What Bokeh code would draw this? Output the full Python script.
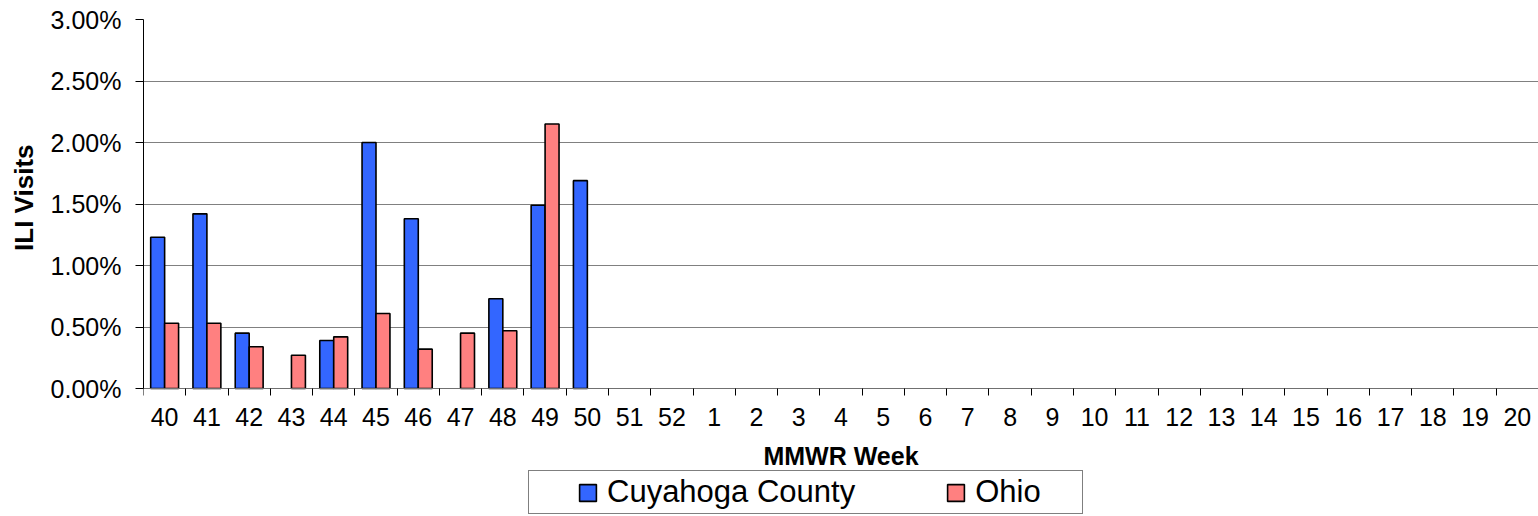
from bokeh.plotting import figure
from bokeh.models import (Range1d, FixedTicker, PrintfTickFormatter, Legend,
                          LegendItem, ColumnDataSource)
from bokeh.embed import file_html
from bokeh.resources import INLINE

weeks = ["40", "41", "42", "43", "44", "45", "46", "47", "48", "49", "50",
         "51", "52", "1", "2", "3", "4", "5", "6", "7", "8", "9", "10",
         "11", "12", "13", "14", "15", "16", "17", "18", "19", "20"]
cuyahoga = [1.23, 1.42, 0.45, None, 0.39, 2.00, 1.38, None, 0.73, 1.49, 1.69] + [None] * 22
ohio = [0.53, 0.53, 0.34, 0.27, 0.42, 0.61, 0.32, 0.45, 0.47, 2.15, None] + [None] * 22
y_ticks = [0.0, 0.5, 1.0, 1.5, 2.0, 2.5, 3.0]

BLUE = "#3366FF"
PINK = "#FF8080"
FONT = "Liberation Sans"

# layout (pixels)
H, W = 516, 1538
TOP, AXIS_Y = 19, 388          # frame top and y=0 position in figure px
px_per_unit = (AXIS_Y - TOP) / 3.0
y_start = -(H - AXIS_Y) / px_per_unit

idx = list(range(len(weeks)))
nan = float("nan")
src = ColumnDataSource(dict(
    xc=[i - 0.165 for i in idx],
    xo=[i + 0.165 for i in idx],
    cuy=[nan if v is None else v for v in cuyahoga],
    ohi=[nan if v is None else v for v in ohio],
))

p = figure(width=W, height=H, output_backend="svg", toolbar_location=None,
           x_range=Range1d(-0.5, len(weeks) - 0.5), y_range=Range1d(y_start, 3),
           min_border=0,
           min_border_left=143, min_border_top=TOP, min_border_bottom=0,
           min_border_right=0, title="ILI Visits", title_location="left")
p.outline_line_color = None
p.background_fill_color = "white"
p.border_fill_color = "white"

# y-axis title (plot title on the left, placed against the 0..3% span)
p.title.align = "right"
p.title.offset = 125
p.title.vertical_align = "top"
p.title.text_font = FONT
p.title.text_font_style = "bold"
p.title.text_font_size = "26px"
p.title.text_color = "black"
p.title.standoff = 13

rc = p.vbar(x="xc", top="cuy", bottom=0, width=0.33, source=src, fill_color=BLUE,
            line_color="black", line_width=1.6)
ro = p.vbar(x="xo", top="ohi", bottom=0, width=0.33, source=src, fill_color=PINK,
            line_color="black", line_width=1.6)

# x axis: labels at category centers, tick marks at boundaries, pinned at y=0
xa = p.xaxis[0]
xa.fixed_location = 0
xa.ticker = FixedTicker(ticks=idx, minor_ticks=[i - 0.5 for i in range(len(weeks) + 1)])
xa.major_label_overrides = {i: w for i, w in zip(idx, weeks)}
xa.major_tick_out = 0
xa.major_tick_in = 0
xa.minor_tick_out = 7
xa.minor_tick_in = 0
xa.minor_tick_line_color = "black"
xa.axis_line_color = "#707070"
xa.major_label_text_font = FONT
xa.major_label_text_font_size = "25px"
xa.major_label_text_color = "black"
xa.major_label_standoff = 12
xa.axis_label = "MMWR Week"
xa.axis_label_text_font = FONT
xa.axis_label_text_font_style = "bold"
xa.axis_label_text_font_size = "25px"
xa.axis_label_text_color = "black"
xa.axis_label_standoff = 13

ya = p.yaxis[0]
ya.bounds = (0, 3)
ya.ticker = FixedTicker(ticks=y_ticks, minor_ticks=[])
ya.formatter = PrintfTickFormatter(format="%.2f%%")
ya.major_tick_out = 8
ya.major_tick_in = 0
ya.major_tick_line_color = "black"
ya.axis_line_color = "black"
ya.major_label_text_font = FONT
ya.major_label_text_font_size = "25px"
ya.major_label_text_color = "black"
ya.major_label_standoff = 14

p.xgrid.grid_line_color = None
p.ygrid.grid_line_color = "#808080"
p.ygrid.grid_line_width = 1

legend = Legend(items=[LegendItem(label="Cuyahoga County", renderers=[rc]),
                       LegendItem(label="Ohio", renderers=[ro])],
                orientation="horizontal", location=(385, 2),
                padding=3, spacing=90, label_standoff=9, label_width=104,
                glyph_width=21, glyph_height=21,
                title=" ", title_location="left", title_text_font_size="1px",
                title_standoff=44,
                label_text_font=FONT, label_text_font_size="31px",
                label_text_color="black",
                border_line_color="black", border_line_width=1,
                background_fill_color="white", background_fill_alpha=1)
p.add_layout(legend, "center")

open("out.html", "w").write(file_html(p, INLINE))
